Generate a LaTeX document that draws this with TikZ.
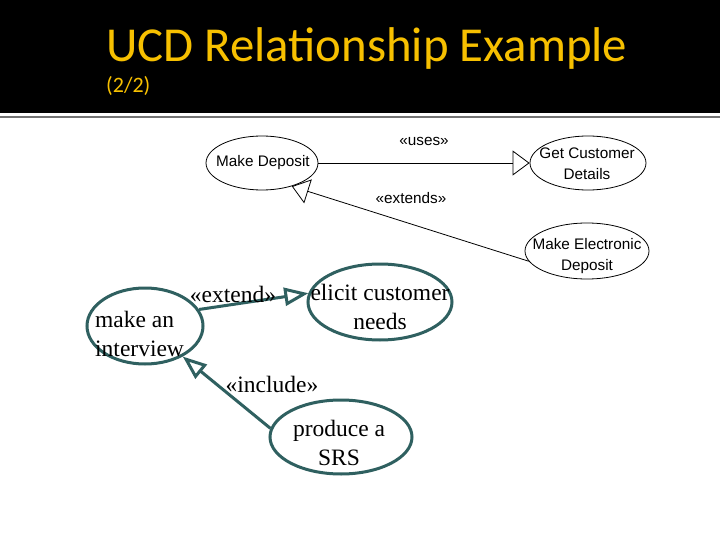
\documentclass[tikz,border=0pt]{standalone}
\usepackage{fontspec}
\setmainfont{Liberation Serif}
\newfontfamily\titlefont{Carlito}
\newfontfamily\umlfont{Liberation Sans}
\usetikzlibrary{arrows.meta,shapes.geometric}
\definecolor{titleyellow}{RGB}{247,192,0}
\definecolor{teal}{RGB}{47,96,96}
\tikzset{
  ucase/.style={draw=black, line width=0.8pt, ellipse, inner sep=0pt},
  ulabel/.style={font=\umlfont\fontsize{15.3}{17}\selectfont, align=center, inner sep=0pt},
  uarrow/.style={line width=0.8pt, -{Triangle[open,length=17pt,width=25pt]}},
  tcase/.style={draw=teal, line width=3pt, ellipse, inner sep=0pt},
  tlabel/.style={font=\fontsize{23.5}{28.5}\selectfont, inner sep=0pt},
  tarrow/.style={draw=teal, line width=3pt, -{Triangle[open,length=24pt,width=18pt]}},
}
\begin{document}
\begin{tikzpicture}[x=1pt,y=-1pt]
\useasboundingbox (0,0) rectangle (720,540);
\fill[white] (0,0) rectangle (720,540);
\fill[black] (0,0) rectangle (720,113);
\draw[gray!90!black, line width=1.4pt] (0,117) -- (720,117);
\node[anchor=base west, text=titleyellow, font=\titlefont\fontsize{48.8}{54}\selectfont, inner sep=0pt] (title) at (106,62) {UCD Relationship Example};
\node[anchor=base west, text=titleyellow, font=\titlefont\fontsize{22}{24}\selectfont, inner sep=0pt] (sub) at (106,93) {(2/2)};

% upper diagram
\node[ucase, minimum width=112pt, minimum height=54pt] (md) at (262,163) {};
\node[ulabel] (mdt) at (263,163) {Make Deposit};
\node[ucase, minimum width=116pt, minimum height=54pt] (gcd) at (588,163) {};
\node[ulabel] (gcdt) at (587,164) {Get Customer\\[4pt]Details};
\node[ucase, minimum width=124pt, minimum height=56pt] (med) at (587,251) {};
\node[ulabel] (medt) at (587,256) {Make Electronic\\[4pt]Deposit};
\draw[uarrow] (md.east) -- (gcd.west);
\draw[uarrow] (med.190) -- (md.-38);
\node[ulabel] (uses) at (424,141) {«uses»};
\node[ulabel] (ext) at (411,198) {«extends»};

% lower diagram
\node[tcase, minimum width=116pt, minimum height=76pt] (mi) at (145,326) {};
\node[tlabel, align=left, anchor=north west] (mit) at (95,311) {make an\\interview};
\node[tcase, minimum width=144pt, minimum height=76pt] (ec) at (380,302) {};
\node[tlabel, align=center] (ect) at (380,307) {elicit customer\\needs};
\node[tcase, minimum width=142pt, minimum height=74pt] (ps) at (341,437) {};
\node[tlabel, align=center] (pst) at (339,443) {produce a\\SRS};
\draw[tarrow] (mi.17) -- (ec.173);
\draw[tarrow] (ps.173) -- (mi.-39);
\node[tlabel] (extl) at (233,294) {«extend»};
\node[tlabel] (incl) at (272,384) {«include»};
\end{tikzpicture}
\end{document}
